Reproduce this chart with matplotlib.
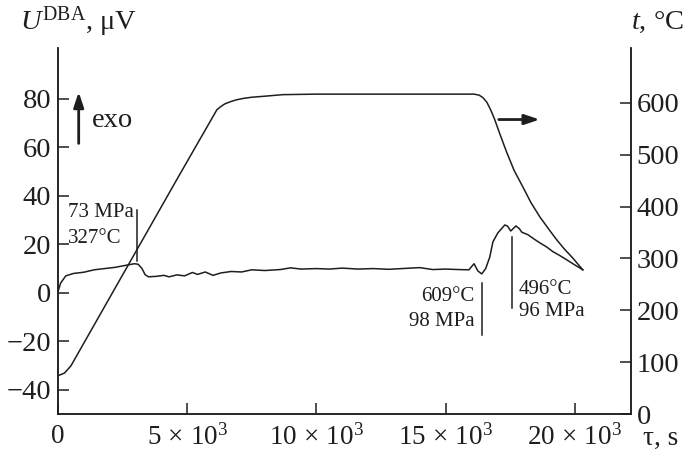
import matplotlib
matplotlib.use('Agg')
import matplotlib.pyplot as plt

plt.rcParams['font.family'] = ['Liberation Serif', 'DejaVu Serif']
plt.rcParams['mathtext.fontset'] = 'custom'
plt.rcParams['mathtext.rm'] = 'Liberation Serif'
plt.rcParams['mathtext.it'] = 'Liberation Serif:italic'

# DBA signal (tau in s, U in microvolts)
dba_tau = [0, 100, 300, 600, 1000, 1400, 1800, 2200, 2600, 2950, 3100, 3250, 3370,
           3500, 3800, 4100, 4300, 4600, 4900, 5200, 5400, 5700, 6000, 6300, 6700,
           7100, 7500, 8000, 8600, 9000, 9400, 10000, 10500, 11000, 11600, 12200,
           12800, 13300, 14000, 14500, 15000, 15500, 15900, 16100, 16250, 16400,
           16550, 16710, 16830, 17020, 17290, 17400, 17520, 17720, 17850, 17950,
           18180, 18450, 18650, 18900, 19150, 19400, 19690, 20000, 20310]
dba_u = [0.5, 4.0, 7.0, 8.0, 8.5, 9.5, 10.0, 10.5, 11.3, 12.0, 11.8, 10.0, 7.5,
         6.6, 6.8, 7.2, 6.6, 7.4, 7.0, 8.4, 7.6, 8.6, 7.2, 8.2, 8.8,
         8.6, 9.5, 9.2, 9.6, 10.3, 9.8, 10.0, 9.8, 10.2, 9.8, 10.0,
         9.7, 10.0, 10.4, 9.6, 9.8, 9.6, 9.5, 12.0, 9.0, 7.8,
         10.0, 14.8, 21.0, 24.7, 28.0, 27.5, 25.5, 27.6, 26.5, 25.0,
         24.0, 22.0, 20.6, 19.0, 17.0, 15.5, 13.6, 11.5, 9.5]

# temperature (right axis)
temp_tau = [0, 250, 500, 4640, 6150, 6300, 6450, 6650, 6900, 7200, 7500, 8000, 8700, 10000,
            16100, 16300, 16450, 16600, 16750, 16900, 17100, 17370, 17650, 17990,
            18300, 18650, 19000, 19300, 19600, 19920, 20310]
temp_t = [74, 79, 93, 456, 587, 593, 598, 602, 606, 609, 611, 613, 616, 617,
          617, 615, 610, 601, 586, 568, 540, 504, 470, 438,
          408, 380, 356, 336, 318, 301, 278]

x_ticks = [0, 5000, 10000, 15000, 20000]
x_labels = ['0', r'$5\,\times\,10^3$', r'$10\,\times\,10^3$', r'$15\,\times\,10^3$',
            r'$20\,\times\,10^3$']
left_ticks = [-40, -20, 0, 20, 40, 60, 80]
left_labels = ['\u221240', '\u221220', '0', '20', '40', '60', '80']
right_ticks = [0, 100, 200, 300, 400, 500, 600]

ink = '#1e1e1e'
fs = 20.5

fig = plt.figure(figsize=(6.85, 4.57), dpi=100)
ax = fig.add_axes([0.0847, 0.094, 0.8363, 0.801])
ax2 = ax.twinx()

ax.plot(dba_tau, dba_u, color=ink, lw=1.1)
ax2.plot(temp_tau, temp_t, color=ink, lw=1.1)

ax.set_xlim(0, 22170)
ax.set_ylim(-50, 101)
ax2.set_ylim(0, 706)

ax.set_xticks(x_ticks)
ax.set_xticklabels(x_labels)
ax.set_yticks(left_ticks)
ax.set_yticklabels(left_labels)
ax2.set_yticks(right_ticks)

for a in (ax, ax2):
    a.spines['top'].set_visible(False)
    for s in a.spines.values():
        s.set_linewidth(1.1)
        s.set_color(ink)
ax.tick_params(axis='both', direction='in', length=8, width=1.1, color=ink,
               labelsize=fs, labelcolor=ink)
ax.tick_params(axis='x', pad=7, labelsize=19.5)
ax.tick_params(axis='y', pad=5)
ax2.tick_params(axis='y', direction='in', length=8, width=1.1, color=ink,
                labelsize=fs, labelcolor=ink, pad=4)

# axis titles
fig.text(20 / 685, 1 - 22 / 457, '$U^{\\rm DBA}$, \u03bcV',
         fontsize=fs, va='center', ha='left', color=ink)
fig.text(684 / 685, 1 - 22 / 457, '$t$, \u00b0C',
         fontsize=fs, va='center', ha='right', color=ink)
fig.text(678 / 685, 1 - 438 / 457, '\u03c4, s', fontsize=19.5, va='center', ha='right',
         color=ink)

# exo arrow
ax.annotate('', xy=(800, 84), xytext=(800, 60.5),
            arrowprops=dict(arrowstyle='-|>,head_length=0.9,head_width=0.3', color=ink, lw=2))
ax.text(1300, 71, 'exo', fontsize=fs, va='center', ha='left', color=ink)

# arrow pointing to temperature axis
ax2.annotate('', xy=(18750, 568), xytext=(16950, 568),
             arrowprops=dict(arrowstyle='-|>,head_length=0.9,head_width=0.3', color=ink, lw=2))

# annotations
fa = 15
ax.plot([3056, 3056], [13.2, 34.2], color=ink, lw=1.1)
ax.text(380, 33, '73 MPa', fontsize=fa, va='center', ha='left', color=ink)
ax.text(380, 22.5, '327\u00b0C', fontsize=fa, va='center', ha='left', color=ink)

ax.plot([16402, 16402], [-17.3, 4.1], color=ink, lw=1.1)
ax.text(16120, -1.5, '609\u00b0C', fontsize=fa, va='center', ha='right', color=ink)
ax.text(16120, -12, '98 MPa', fontsize=fa, va='center', ha='right', color=ink)

ax.plot([17563, 17563], [-6.2, 23.1], color=ink, lw=1.1)
ax.text(17830, 1.5, '496\u00b0C', fontsize=fa, va='center', ha='left', color=ink)
ax.text(17830, -7.5, '96 MPa', fontsize=fa, va='center', ha='left', color=ink)

fig.savefig('out.png', dpi=100)
